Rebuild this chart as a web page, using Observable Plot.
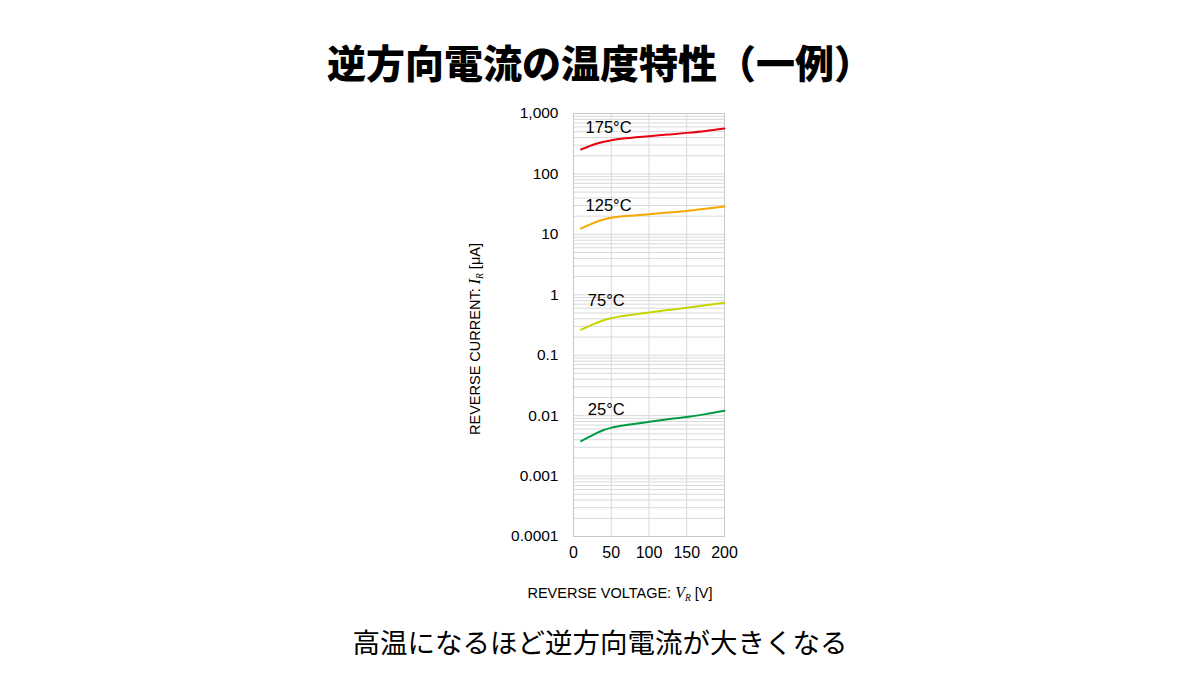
<!DOCTYPE html>
<html>
<head>
<meta charset="utf-8">
<script src="https://cdn.jsdelivr.net/npm/d3@7"></script>
<script src="https://cdn.jsdelivr.net/npm/@observablehq/plot@0.6"></script>
<style>
  html, body { margin: 0; padding: 0; background: #fff; }
  #wrap { position: relative; width: 1200px; height: 675px; overflow: hidden; background: #fff; }
  #title { position: absolute; left: 0; top: 36px; width: 1200px; text-align: center;
    font-family: "Noto Sans CJK JP", sans-serif; font-weight: 900; font-size: 39px; line-height: 50px; color: #000; }
  #caption { position: absolute; left: 0; top: 622px; width: 1200px; text-align: center;
    font-family: "Noto Sans CJK JP", sans-serif; font-weight: 400; font-size: 27.5px; line-height: 38px; color: #000; }
  #chart { position: absolute; left: 0; top: 90px; }
</style>
</head>
<body>
<div id="wrap">
  <div id="title">逆方向電流の温度特性（一例）</div>
  <div id="chart"></div>
  <div id="caption">高温になるほど逆方向電流が大きくなる</div>
</div>
<script>
// Data
const voltage = [10, 20, 30, 40, 50, 60, 80, 100, 125, 150, 175, 200];
const current175 = [255, 285, 315, 340, 360, 378, 400, 422, 448, 478, 515, 565];
const current125 = [12.5, 14.2, 16, 17.6, 18.8, 19.6, 20.6, 21.6, 22.9, 24.4, 26.5, 29];
const current75 = [0.265, 0.30, 0.34, 0.38, 0.41, 0.435, 0.47, 0.51, 0.56, 0.61, 0.67, 0.74];
const current25 = [0.0038, 0.0044, 0.0051, 0.0058, 0.0063, 0.0067, 0.0073, 0.0079, 0.0087, 0.0095, 0.0106, 0.0121];

const seriesNames = ["175°C", "125°C", "75°C", "25°C"];
const seriesColors = ["#e60012", "#f5a800", "#c8d400", "#009a44"];
const labelX = [16, 16, 19, 19];
const labelY = [590, 30, 0.80, 0.0125];

const xTicks = [0, 50, 100, 150, 200];
const yTicks = [0.0001, 0.001, 0.01, 0.1, 1, 10, 100, 1000];
const yTickLabels = ["0.0001", "0.001", "0.01", "0.1", "1", "10", "100", "1,000"];

const allSeries = [current175, current125, current75, current25];
const rows = allSeries.flatMap((vals, i) => vals.map((v, j) => ({ x: voltage[j], y: v, s: seriesNames[i] })));
const labels = seriesNames.map((s, i) => ({ s, x: labelX[i], y: labelY[i] }));
const minorY = [];
for (let k = 0; k < yTicks.length - 1; k++) for (let m = 1; m < 10; m++) minorY.push(yTicks[k] * m);
minorY.push(yTicks[yTicks.length - 1]);

const font = '"Liberation Sans", Arial, sans-serif';

const plot = Plot.plot({
  width: 1200,
  height: 520,
  marginLeft: 573,
  marginRight: 476,
  marginTop: 23,
  marginBottom: 74,
  style: { fontFamily: font, fontSize: "15.5px", color: "#000", background: "transparent" },
  x: { domain: [0, 200], ticks: xTicks, label: null },
  y: { type: "log", domain: [0.0001, 1000], ticks: yTicks, label: null },
  color: { domain: seriesNames, range: seriesColors },
  marks: [
    Plot.ruleY(minorY, { stroke: "#d9d9d9", strokeWidth: 1 }),
    Plot.ruleX(xTicks, { stroke: "#d9d9d9", strokeWidth: 1 }),
    Plot.frame({ stroke: "#c8c8c8", strokeWidth: 1 }),
    Plot.axisX({ ticks: xTicks, tickSize: 0, tickPadding: 10, fontSize: "16px", label: null }),
    Plot.axisY({ ticks: yTicks, tickSize: 0, tickPadding: 15, tickFormat: (d) => yTickLabels[yTicks.indexOf(d)], fontSize: "15.5px", label: null }),
    Plot.line(rows, { x: "x", y: "y", z: "s", stroke: "s", strokeWidth: 2, curve: "monotone-x" }),
    Plot.text(labels, { x: "x", y: "y", text: "s", textAnchor: "start", fontSize: "16.5px", fill: "#000" })
  ]
});
document.getElementById("chart").appendChild(plot);

// axis titles with italic subscripted symbols
const svg = d3.select(plot);
const xl = svg.append("text")
  .attr("x", 620).attr("y", 508)
  .attr("text-anchor", "middle")
  .style("font-family", font).style("font-size", "14.5px").attr("fill", "#000");
xl.append("tspan").text("REVERSE VOLTAGE: ");
xl.append("tspan").text("V").style("font-family", '"Liberation Serif", serif').style("font-style", "italic").style("font-size", "16px");
xl.append("tspan").text("R").style("font-family", '"Liberation Serif", serif').style("font-style", "italic").style("font-size", "9.5px").attr("dy", "3");
xl.append("tspan").text(" [V]").attr("dy", "-3");

const yl = svg.append("text")
  .attr("transform", "translate(480,249) rotate(-90)")
  .attr("text-anchor", "middle")
  .style("font-family", font).style("font-size", "14.5px").attr("fill", "#000");
yl.append("tspan").text("REVERSE CURRENT: ");
yl.append("tspan").text("I").style("font-family", '"Liberation Serif", serif').style("font-style", "italic").style("font-size", "16px");
yl.append("tspan").text("R").style("font-family", '"Liberation Serif", serif').style("font-style", "italic").style("font-size", "9.5px").attr("dy", "3");
yl.append("tspan").text(" [μA]").attr("dy", "-3");
</script>
</body>
</html>
